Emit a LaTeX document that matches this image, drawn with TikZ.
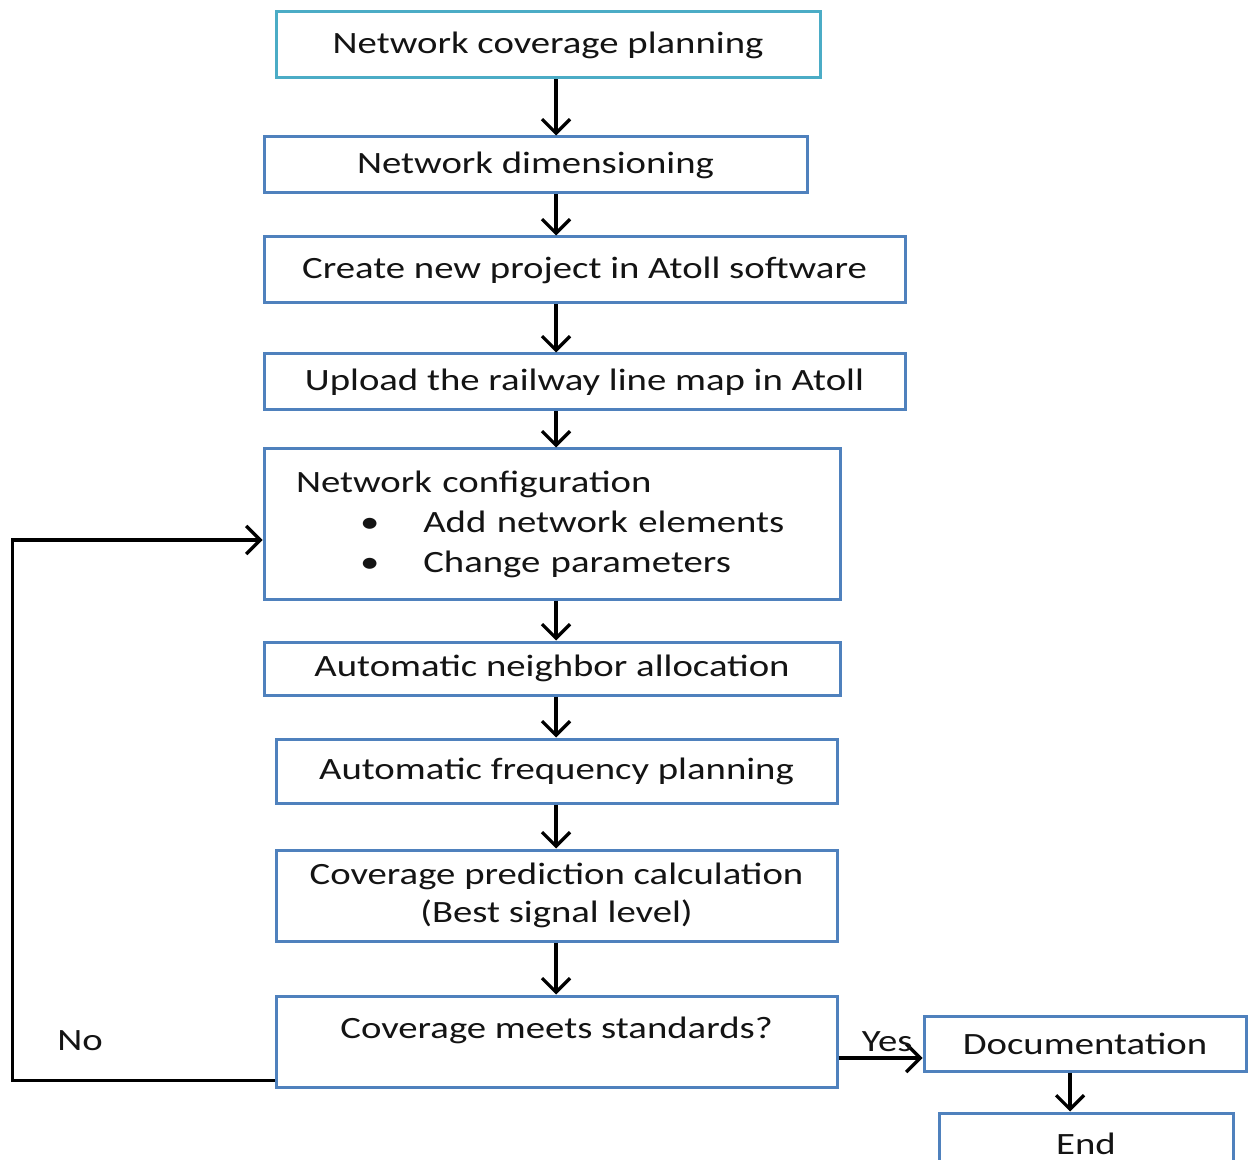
\documentclass[tikz,border=0pt]{standalone}
\usepackage{fontspec}
\setmainfont{Carlito}[FakeStretch=1.25]
\usepackage{xcolor}
\usepackage{tikz}
\usetikzlibrary{arrows.meta,positioning}
\definecolor{boxblue}{HTML}{4F81BD}
\definecolor{boxteal}{HTML}{4BACC6}
\definecolor{inkdark}{HTML}{141414}
\tikzset{
  box/.style    ={draw=boxblue,line width=1.5pt,fill=white,inner sep=4pt,
                  align=center,text=inkdark},
  startbox/.style={box,draw=boxteal},
  flow/.style   ={-{Straight Barb[length=7pt,width=14pt,line width=1.6pt]},
                  line width=1.8pt,draw=black},
  tag/.style    ={text=inkdark,inner sep=2pt}
}
\begin{document}
\begin{tikzpicture}[x=0.5pt,y=-0.5pt,
    every node/.style={font=\fontsize{15.5pt}{19pt}\selectfont}]
        \clip (0,0) rectangle (1248,1160);
        \node[startbox,minimum width=272pt,minimum height=33pt] (plan) at (548,45) {Network coverage planning};
        \node[box,minimum width=271.5pt,minimum height=28pt] (dim) at (535.5,165) {Network dimensioning};
        \node[box,minimum width=320.5pt,minimum height=33pt] (proj) at (584.5,270) {Create new project in Atoll software};
        \node[box,minimum width=320.5pt,minimum height=28pt] (upload) at (584.5,382) {Upload the railway line map in Atoll};
        \node[box,minimum width=288pt,minimum height=75pt,inner xsep=16pt,
              text width=256pt,align=left] (config) at (552,524)
              {Network configuration\\[1pt]
               \hspace*{32pt}\textbullet\hspace{22pt}Add network elements\\[1pt]
               \hspace*{32pt}\textbullet\hspace{22pt}Change parameters};
        \node[box,minimum width=288pt,minimum height=26.5pt] (neigh) at (552,668.5) {Automatic neighbor allocation};
        \node[box,minimum width=280.5pt,minimum height=32pt] (freq) at (556.5,771) {Automatic frequency planning};
        \node[box,minimum width=280.5pt,minimum height=45.5pt] (pred) at (556.5,895.5) {Coverage prediction calculation\\(Best signal level)};
        \node[box,minimum width=280.5pt,minimum height=45.5pt] (meets) at (556.5,1041.5) {Coverage meets standards?\\[-11pt]\strut};
        \node[box,minimum width=161pt,minimum height=27.5pt] (doc) at (1085,1043.5) {Documentation};
        \node[box,minimum width=147pt,minimum height=31pt] (endbox) at (1086,1144) {End};
        \node[tag] (no) at (80,1041) {No};

        % main chain
        \coordinate (ax) at (556,0);
        \draw[flow] (plan.south -| ax) -- (dim.north -| ax);
        \draw[flow] (dim.south -| ax) -- (proj.north -| ax);
        \draw[flow] (proj.south -| ax) -- (upload.north -| ax);
        \draw[flow] (upload.south -| ax) -- (config.north -| ax);
        \draw[flow] (config.south -| ax) -- (neigh.north -| ax);
        \draw[flow] (neigh.south -| ax) -- (freq.north -| ax);
        \draw[flow] (freq.south -| ax) -- (pred.north -| ax);
        \draw[flow] (pred.south -| ax) -- (meets.north -| ax);

        % yes / no
        \coordinate (yesend) at ([yshift=-7.25pt]doc.west);
        \draw[flow] (meets.east |- yesend) -- node[tag,above,pos=0.58] (yes) {Yes} (yesend);
        \draw[flow] ([yshift=4pt]meets.south west) -- ++(-262,0) |- ([yshift=-8pt]config.west);
        \coordinate (dx) at ([xshift=-7.5pt]doc.south);
        \draw[flow] (dx) -- (dx |- endbox.north);
      \end{tikzpicture}
\end{document}
